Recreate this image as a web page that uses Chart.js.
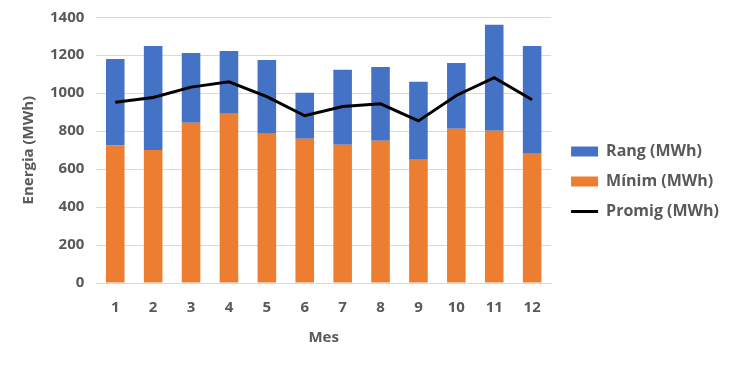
<!DOCTYPE html>
<html>
<head>
<meta charset="utf-8">
<script src="https://cdn.jsdelivr.net/npm/chart.js@4"></script>
<style>
  html, body { margin: 0; padding: 0; background: #fff; }
  #wrap { width: 733px; height: 365px; }
</style>
</head>
<body>
<div id="wrap"><canvas id="chart"></canvas></div>
<script>
const months = ["1", "2", "3", "4", "5", "6", "7", "8", "9", "10", "11", "12"];
const minim = [724, 701, 844, 891, 786, 760, 728, 749, 649, 812, 802, 681];
const rang = [456, 548, 368, 331, 389, 242, 395, 389, 411, 347, 558, 568];
const promig = [952, 977, 1032, 1060, 982, 881, 930, 944, 854, 988, 1082, 965];

const grey = "#595959";
const font = { family: "'Open Sans', sans-serif", size: 15, weight: "bold" };
const yTickFont = { family: "'Open Sans', sans-serif", size: 15, weight: "bold", lineHeight: 0.7 };
const legendFont = { family: "'Open Sans', sans-serif", size: 16, weight: "bold" };

// nudge the legend a little further from the plot, like the original
const legendShift = {
  id: "legendShift",
  afterLayout(chart) {
    chart.legend.left += 6;
    chart.legend.right += 6;
  },
};

document.addEventListener("DOMContentLoaded", () => {
  new Chart(document.getElementById("chart"), {
    data: {
      labels: months,
      datasets: [
        {
          type: "line",
          label: "Promig (MWh)",
          data: promig,
          borderColor: "#000000",
          backgroundColor: "#000000",
          borderWidth: 3,
          pointRadius: 0,
          tension: 0,
          order: 0,
        },
        {
          type: "bar",
          label: "Mínim (MWh)",
          data: minim,
          backgroundColor: "#ed7d31",
          stack: "s",
          categoryPercentage: 1,
          barPercentage: 0.49,
          order: 1,
        },
        {
          type: "bar",
          label: "Rang (MWh)",
          data: rang,
          backgroundColor: "#4472c4",
          stack: "s",
          categoryPercentage: 1,
          barPercentage: 0.49,
          order: 1,
        },
      ],
    },
    plugins: [legendShift],
    options: {
      responsive: true,
      maintainAspectRatio: false,
      animation: false,
      layout: { padding: { left: 16, right: 10, top: 4, bottom: 6 } },
      scales: {
        x: {
          stacked: true,
          grid: { display: false },
          border: { color: "#d9d9d9" },
          ticks: { color: grey, font: font, padding: 8 },
          title: { display: true, text: "Mes", color: grey, font: font, padding: { top: 4, bottom: 12 } },
        },
        y: {
          stacked: true,
          min: 0,
          max: 1400,
          ticks: { stepSize: 200, color: grey, font: yTickFont, padding: 12, callback: (v) => v },
          grid: { color: "#d9d9d9", drawTicks: false },
          border: { display: false },
          title: { display: true, text: "Energia (MWh)", color: grey, font: font, padding: { top: 4, bottom: 0 } },
        },
      },
      plugins: {
        tooltip: { enabled: false },
        legend: {
          position: "right",
          labels: {
            color: grey,
            font: legendFont,
            usePointStyle: true,
            pointStyleWidth: 27,
            boxHeight: 10,
            padding: 14,
            generateLabels: (chart) => {
              const ds = chart.data.datasets;
              return [2, 1, 0].map((i) => ({
                text: ds[i].label,
                datasetIndex: i,
                fillStyle: ds[i].type === "line" ? "#000000" : ds[i].backgroundColor,
                strokeStyle: ds[i].type === "line" ? "#000000" : ds[i].backgroundColor,
                lineWidth: ds[i].type === "line" ? 3 : 0,
                pointStyle: ds[i].type === "line" ? "line" : "rect",
                fontColor: grey,
                hidden: false,
              }));
            },
          },
        },
      },
    },
  });
});
</script>
</body>
</html>
